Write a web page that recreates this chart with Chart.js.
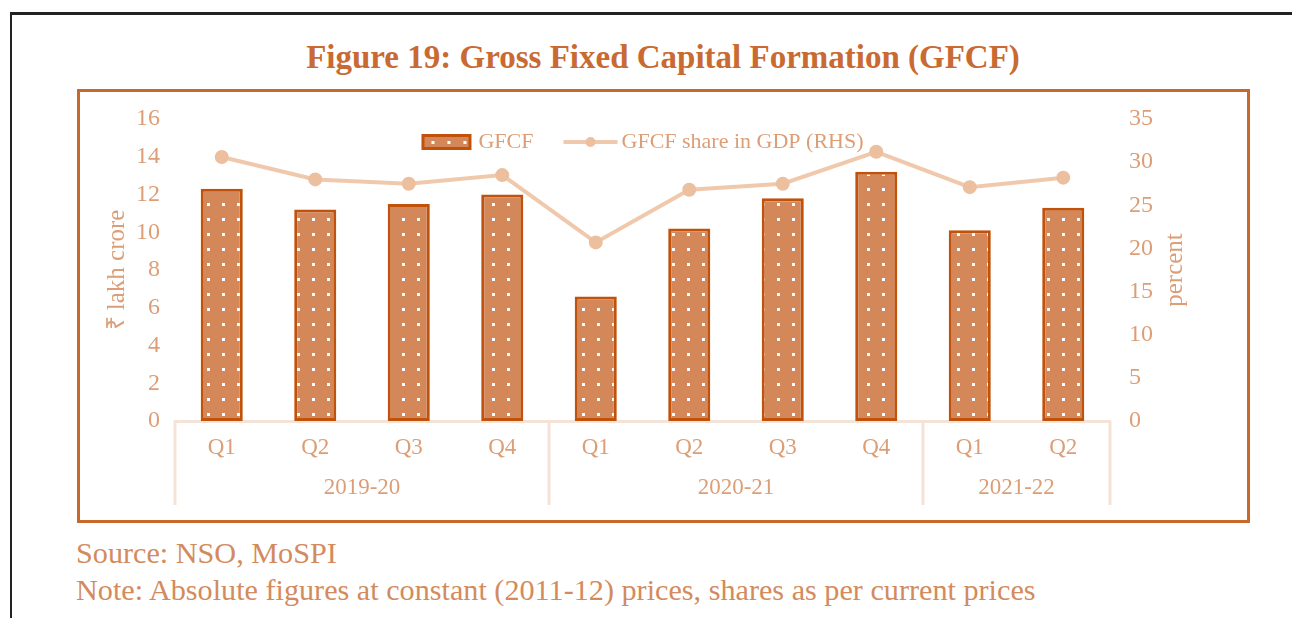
<!DOCTYPE html>
<html>
<head>
<meta charset="utf-8">
<script src="https://cdn.jsdelivr.net/npm/chart.js@4.4.0/dist/chart.umd.min.js"></script>
<style>
  body { margin: 0; background: #fff; width: 1292px; height: 618px; overflow: hidden; position: relative; font-family: "Liberation Serif", serif; }
  #topline { position: absolute; left: 10px; top: 12px; width: 1282px; height: 3px; background: #222; }
  #leftline { position: absolute; left: 10px; top: 12px; width: 2px; height: 606px; background: #222; }
  #title { position: absolute; left: 0; top: 37px; width: 1326px; text-align: center; font-size: 33px; line-height: 40px; font-weight: bold; color: #c86a32; }
  #box { position: absolute; left: 77px; top: 89px; width: 1167px; height: 428px; border: 3px solid #c8692b; }
  #box canvas { display: block; }
  .foot { position: absolute; left: 76px; font-size: 30.2px; line-height: 36px; color: #d38b5d; white-space: nowrap; }
</style>
</head>
<body>
<div id="topline"></div>
<div id="leftline"></div>
<div id="title">Figure 19: Gross Fixed Capital Formation (GFCF)</div>
<div id="box"><canvas id="gfcfChart" width="1167" height="428"></canvas></div>
<div class="foot" style="top:535px">Source: NSO, MoSPI</div>
<div class="foot" style="top:572px">Note: Absolute figures at constant (2011-12) prices, shares as per current prices</div>
<script>
// data
const quarters = ['Q1', 'Q2', 'Q3', 'Q4', 'Q1', 'Q2', 'Q3', 'Q4', 'Q1', 'Q2'];
const years = ['2019-20', '2020-21', '2021-22'];
const yearSpans = [4, 4, 2];
const gfcf = [12.3, 11.2, 11.5, 12.0, 6.6, 10.2, 11.8, 13.2, 10.1, 11.3];
const gfcfShare = [30.6, 28.0, 27.5, 28.5, 20.7, 26.8, 27.5, 31.2, 27.1, 28.2];
const leftMax = 16, leftStep = 2;
const rightMax = 35, rightStep = 5;

const tickColor = '#dc9e76';
const axisLine = '#f6e3d7';
const barFill = '#d4885a';
const barBorder = '#c0520c';
const lineColor = '#f0c9ad';
const pointColor = '#ecbf9e';
const fontFamily = '"Liberation Serif", serif';

// dotted fill for the bars
function dotPattern() {
  const c = document.createElement('canvas');
  c.width = 15; c.height = 15;
  const g = c.getContext('2d');
  g.fillStyle = barFill;
  g.fillRect(0, 0, 15, 15);
  g.fillStyle = '#ffffff';
  g.fillRect(7, 6, 3, 3);
  return g.createPattern(c, 'repeat');
}
const pattern = dotPattern();

// legend drawn by hand: dotted box for the bars, line with a marker for the share
const legendBox = {
  id: 'legendBox',
  beforeDatasetsDraw(chart) {
    const { ctx, chartArea } = chart;
    const ds = chart.data.datasets;
    const barDs = ds.find(d => d.type === 'bar');
    const lineDs = ds.find(d => d.type === 'line');
    ctx.save();
    ctx.font = '22px ' + fontFamily;
    ctx.textBaseline = 'middle';
    ctx.textAlign = 'left';
    const w1 = 50 + 7 + ctx.measureText(barDs.label).width;
    const w2 = 54 + 4 + ctx.measureText(lineDs.label).width;
    const gap = 30;
    let x = (chartArea.left + chartArea.right) / 2 - (w1 + gap + w2) / 2;
    const y = chartArea.top + 23;
    // bar swatch
    ctx.fillStyle = barBorder;
    ctx.fillRect(x, y - 8, 50, 16);
    ctx.fillStyle = barFill;
    ctx.fillRect(x + 3, y - 5, 44, 10);
    ctx.fillStyle = '#fff';
    [11, 27, 43].forEach(dx => ctx.fillRect(x + dx - 1, y - 1, 3, 3));
    ctx.fillStyle = tickColor;
    ctx.fillText(barDs.label, x + 57, y);
    x += w1 + gap;
    // line swatch
    ctx.strokeStyle = lineColor;
    ctx.lineWidth = 4;
    ctx.beginPath(); ctx.moveTo(x, y); ctx.lineTo(x + 54, y); ctx.stroke();
    ctx.fillStyle = pointColor;
    ctx.beginPath(); ctx.arc(x + 27, y, 5, 0, Math.PI * 2); ctx.fill();
    ctx.fillStyle = tickColor;
    ctx.fillText(lineDs.label, x + 58, y);
    ctx.restore();
  }
};

// two-level category axis: year groups with separators, plus the right axis title
const groupAxis = {
  id: 'groupAxis',
  afterDraw(chart) {
    const { ctx, chartArea } = chart;
    const x = chart.scales.x;
    const step = x.getPixelForValue(1) - x.getPixelForValue(0);
    const bottom = chartArea.bottom;
    ctx.save();
    ctx.strokeStyle = axisLine;
    ctx.lineWidth = 3;
    ctx.fillStyle = tickColor;
    ctx.font = '23px ' + fontFamily;
    ctx.textAlign = 'center';
    ctx.textBaseline = 'middle';
    let start = 0;
    const edges = [x.getPixelForValue(0) - step / 2];
    years.forEach((yr, i) => {
      const end = start + yearSpans[i];
      const x0 = x.getPixelForValue(start) - step / 2;
      const x1 = x.getPixelForValue(end - 1) + step / 2;
      edges.push(x1);
      ctx.fillText(yr, (x0 + x1) / 2, bottom + 67);
      start = end;
    });
    edges.forEach(e => {
      ctx.beginPath();
      ctx.moveTo(e, bottom);
      ctx.lineTo(e, bottom + 84);
      ctx.stroke();
    });
    const y1 = chart.scales.y1;
    ctx.font = '25px ' + fontFamily;
    ctx.translate(y1.left + 65, (chartArea.top + chartArea.bottom) / 2);
    ctx.rotate(-Math.PI / 2);
    ctx.fillText('percent', 0, 0);
    ctx.restore();
  }
};

function fixY(width) {
  return s => {
    s.width = width;
    s.paddingTop = 0;
    s.paddingBottom = 0;
  };
}

const ctx = document.getElementById('gfcfChart').getContext('2d');
const gfcfChart = new Chart(ctx, {
  data: {
    labels: quarters,
    datasets: [
      {
        type: 'line',
        label: 'GFCF share in GDP (RHS)',
        data: gfcfShare,
        yAxisID: 'y1',
        borderColor: lineColor,
        borderWidth: 4,
        pointRadius: 5,
        pointBackgroundColor: pointColor,
        pointBorderColor: pointColor,
        tension: 0,
        order: 0
      },
      {
        type: 'bar',
        label: 'GFCF',
        data: gfcf,
        yAxisID: 'y',
        backgroundColor: pattern,
        borderColor: barBorder,
        borderWidth: 3,
        borderSkipped: false,
        barPercentage: 0.45,
        categoryPercentage: 1,
        order: 1
      }
    ]
  },
  options: {
    responsive: false,
    animation: false,
    layout: { padding: { top: 27, left: 0, right: 0, bottom: 0 } },
    plugins: {
      legend: { display: false },
      tooltip: { enabled: false }
    },
    scales: {
      x: {
        type: 'category',
        offset: true,
        grid: { display: false, drawTicks: false },
        border: { display: true, color: axisLine, width: 3 },
        ticks: { color: tickColor, font: { family: fontFamily, size: 23 }, padding: 13, maxRotation: 0 },
        afterFit: s => { s.height = 99; s.paddingLeft = 0; s.paddingRight = 0; }
      },
      y: {
        position: 'left',
        min: 0,
        max: leftMax,
        ticks: { stepSize: leftStep, color: tickColor, font: { family: fontFamily, size: 24 }, padding: 15 },
        grid: { display: false, drawTicks: false },
        border: { display: false },
        title: { display: true, text: '₹ lakh crore', color: tickColor, font: { family: fontFamily, size: 25 }, padding: { top: 22, bottom: 0 } },
        afterFit: fixY(95)
      },
      y1: {
        position: 'right',
        min: 0,
        max: rightMax,
        ticks: { stepSize: rightStep, color: tickColor, font: { family: fontFamily, size: 24 }, padding: 19 },
        grid: { display: false, drawTicks: false },
        border: { display: false },
        afterFit: fixY(137)
      }
    }
  },
  plugins: [legendBox, groupAxis]
});
</script>
</body>
</html>
